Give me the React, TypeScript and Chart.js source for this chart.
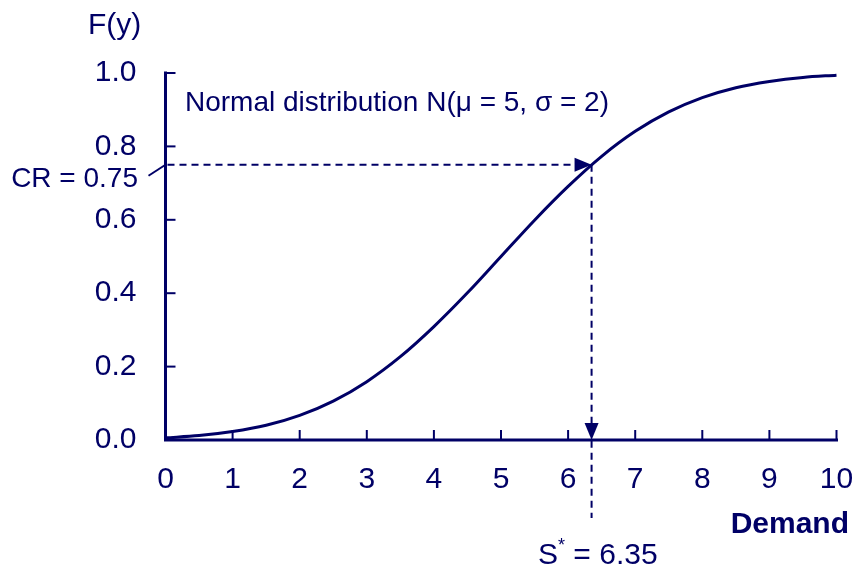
import React, { useEffect, useRef } from "react";
import { Chart, registerables } from "chart.js";

Chart.register(...registerables);

// Values
const demandValues = [0, 0.5, 1, 1.5, 2, 2.5, 3, 3.5, 4, 4.5, 5, 5.5, 6, 6.5, 7, 7.5, 8, 8.5, 9, 9.5, 10];
const cdfValues = [0.006, 0.012, 0.023, 0.04, 0.067, 0.106, 0.159, 0.227, 0.309, 0.401, 0.5, 0.599, 0.691, 0.773, 0.841, 0.894, 0.933, 0.96, 0.977, 0.988, 0.994];
const xTickValues = [0, 1, 2, 3, 4, 5, 6, 7, 8, 9, 10];
const yTickValues = [0, 0.2, 0.4, 0.6, 0.8, 1.0];
const criticalRatio = 0.75;
const optimalStock = 6.35;
const yAxisTitle = "F(y)";
const xAxisTitle = "Demand";
const distLabel = "Normal distribution N(\u03bc = 5, \u03c3 = 2)";

const NAVY = "#000066";
const FONT = "'Liberation Sans', Arial, sans-serif";

const overlayPlugin = {
  id: "overlay",
  afterDatasetsDraw(chart: any) {
    const { ctx, chartArea, scales } = chart;
    const xs = scales.x;
    const ys = scales.y;
    const left = chartArea.left;
    const bottom = chartArea.bottom;
    const top = chartArea.top;
    const right = chartArea.right;
    ctx.save();
    ctx.strokeStyle = NAVY;
    ctx.fillStyle = NAVY;

    // tick marks (inward)
    ctx.lineWidth = 2;
    ctx.setLineDash([]);
    for (const v of yTickValues) {
      const py = ys.getPixelForValue(v);
      ctx.beginPath();
      ctx.moveTo(left, py);
      ctx.lineTo(left + 10, py);
      ctx.stroke();
    }
    for (const v of xTickValues) {
      const px = xs.getPixelForValue(v);
      ctx.beginPath();
      ctx.moveTo(px, bottom);
      ctx.lineTo(px, bottom - 10);
      ctx.stroke();
    }
    // axis lines
    ctx.lineWidth = 3;
    ctx.lineCap = "square";
    ctx.beginPath();
    ctx.moveTo(left, top);
    ctx.lineTo(left, bottom);
    ctx.lineTo(right, bottom);
    ctx.stroke();
    ctx.lineCap = "butt";

    // dashed guides
    const xS = xs.getPixelForValue(optimalStock);
    const yCR = ys.getPixelForValue(criticalRatio);
    const ah = 17;
    const aw = 7;
    ctx.lineWidth = 2;
    ctx.setLineDash([7, 5]);
    ctx.beginPath();
    ctx.moveTo(left + 2, yCR);
    ctx.lineTo(xS - ah, yCR);
    ctx.stroke();
    ctx.beginPath();
    ctx.moveTo(xS, yCR);
    ctx.lineTo(xS, bottom + 78);
    ctx.stroke();
    ctx.setLineDash([]);

    // arrowheads
    ctx.beginPath();
    ctx.moveTo(xS, yCR);
    ctx.lineTo(xS - ah, yCR - aw);
    ctx.lineTo(xS - ah, yCR + aw);
    ctx.closePath();
    ctx.fill();
    ctx.beginPath();
    ctx.moveTo(xS, bottom);
    ctx.lineTo(xS - aw, bottom - ah);
    ctx.lineTo(xS + aw, bottom - ah);
    ctx.closePath();
    ctx.fill();

    // CR leader
    ctx.lineWidth = 2;
    ctx.beginPath();
    ctx.moveTo(left - 17, yCR + 11);
    ctx.lineTo(left, yCR);
    ctx.stroke();

    // texts
    ctx.textBaseline = "alphabetic";
    ctx.textAlign = "left";
    ctx.font = `30px ${FONT}`;
    ctx.fillText(yAxisTitle, 88, 34);
    ctx.font = `28px ${FONT}`;
    ctx.fillText(distLabel, 185, 111);
    ctx.font = `28px ${FONT}`;
    ctx.textAlign = "right";
    ctx.fillText(`CR = ${criticalRatio}`, 138, yCR + 22);

    ctx.font = `bold 30px ${FONT}`;
    ctx.textAlign = "right";
    ctx.fillText(xAxisTitle, 849, 533);

    // S* = 6.35
    ctx.textAlign = "left";
    ctx.font = `30px ${FONT}`;
    let sx = 538;
    const sy = 564;
    ctx.fillText("S", sx, sy);
    sx += ctx.measureText("S").width;
    ctx.font = `18px ${FONT}`;
    ctx.fillText("*", sx, sy - 13);
    sx += ctx.measureText("*").width;
    ctx.font = `30px ${FONT}`;
    ctx.fillText(` = ${optimalStock}`, sx, sy);

    ctx.restore();
  },
};

export default function App() {
  const canvasRef = useRef<HTMLCanvasElement | null>(null);

  useEffect(() => {
    if (!canvasRef.current) return;
    const chart = new Chart(canvasRef.current, {
      type: "line",
      data: {
        datasets: [
          {
            data: demandValues.map((x, i) => ({ x, y: cdfValues[i] })),
            borderColor: NAVY,
            borderWidth: 3,
            pointRadius: 0,
            fill: false,
            cubicInterpolationMode: "monotone",
            clip: false as any,
          },
        ],
      },
      options: {
        responsive: false,
        animation: false,
        layout: { padding: { left: 0, right: 22.5, top: 73, bottom: 0 } },
        plugins: { legend: { display: false }, tooltip: { enabled: false } },
        scales: {
          x: {
            type: "linear",
            min: 0,
            max: 10,
            afterBuildTicks: (s: any) => {
              s.ticks = xTickValues.map((v) => ({ value: v }));
            },
            afterFit: (s: any) => {
              s.height = 129;
              s.paddingLeft = 0;
              s.paddingRight = 0;
            },
            ticks: {
              color: NAVY,
              font: { size: 30, family: FONT },
              padding: 22,
              maxRotation: 0,
              autoSkip: false,
              callback: (v: any) => String(v),
            },
            grid: { display: false, drawTicks: false },
            border: { display: false },
          },
          y: {
            type: "linear",
            min: 0,
            max: 1,
            afterBuildTicks: (s: any) => {
              s.ticks = yTickValues.map((v) => ({ value: v }));
            },
            afterFit: (s: any) => {
              s.width = 165.5;
              s.paddingTop = 0;
              s.paddingBottom = 0;
            },
            ticks: {
              color: NAVY,
              font: { size: 30, family: FONT },
              padding: 29,
              callback: (v: any) => Number(v).toFixed(1),
            },
            grid: { display: false, drawTicks: false },
            border: { display: false },
          },
        },
      } as any,
      plugins: [overlayPlugin],
    });
    return () => chart.destroy();
  }, []);

  return (
    <div style={{ position: "fixed", left: 0, top: 0, width: 859, height: 569, background: "#fff" }}>
      <canvas ref={canvasRef} width={859} height={569} style={{ width: 859, height: 569, display: "block" }} />
    </div>
  );
}
